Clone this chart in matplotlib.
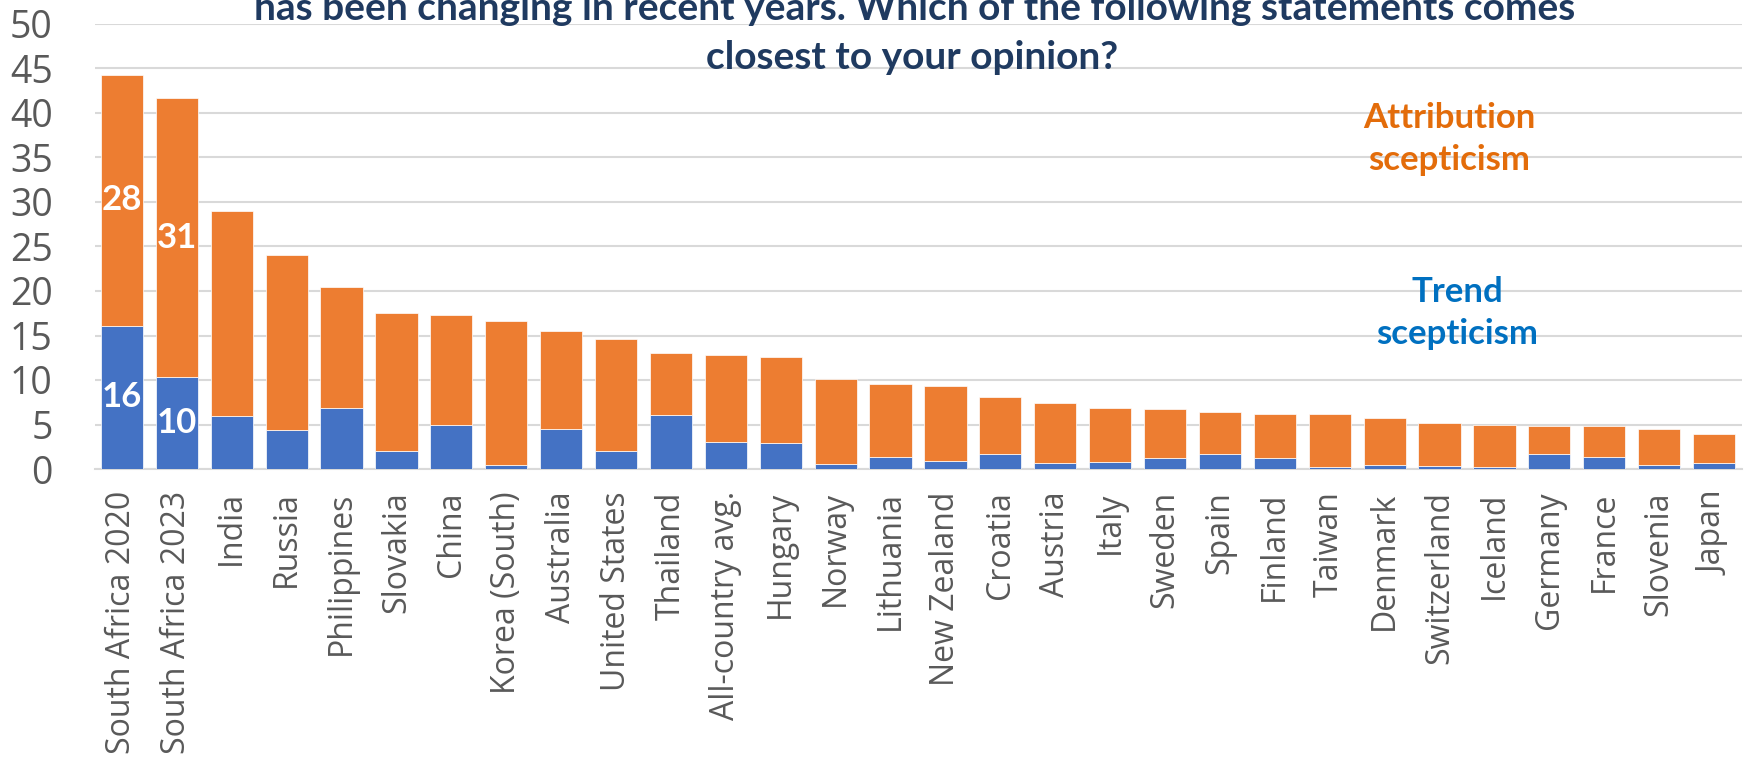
import numpy as np
import matplotlib
matplotlib.use("Agg")
import matplotlib.pyplot as plt

countries = ["South Africa 2020", "South Africa 2023", "India", "Russia", "Philippines",
             "Slovakia", "China", "Korea (South)", "Australia", "United States",
             "Thailand", "All-country avg.", "Hungary", "Norway", "Lithuania",
             "New Zealand", "Croatia", "Austria", "Italy", "Sweden", "Spain",
             "Finland", "Taiwan", "Denmark", "Switzerland", "Iceland", "Germany",
             "France", "Slovenia", "Japan"]

# trend scepticism (blue, bottom)
trend = [16.1, 10.3, 5.9, 4.4, 6.8, 2.0, 4.9, 0.5, 4.5, 2.0,
         6.1, 3.0, 2.9, 0.6, 1.3, 0.9, 1.7, 0.7, 0.8, 1.2,
         1.7, 1.2, 0.2, 0.4, 0.3, 0.2, 1.7, 1.4, 0.4, 0.7]

# attribution scepticism (orange, top)
attribution = [28.2, 31.4, 23.1, 19.6, 13.6, 15.5, 12.4, 16.1, 11.0, 12.6,
               6.9, 9.8, 9.7, 9.5, 8.2, 8.4, 6.4, 6.7, 6.1, 5.5,
               4.7, 5.0, 6.0, 5.3, 4.9, 4.8, 3.1, 3.4, 4.1, 3.2]

labelled = [0, 1]  # bars with value labels

title_1 = "has been changing in recent years. Which of the following statements comes"
title_2 = "closest to your opinion?"

BLUE = "#4472C4"
ORANGE = "#ED7D31"
GREY = "#595959"

plt.rcParams["font.family"] = ["Open Sans", "DejaVu Sans"]

fig = plt.figure(figsize=(17.46, 7.64), dpi=100)
ax = fig.add_axes([94.5 / 1746, 1 - 469 / 764, 1647 / 1746, 445 / 764])

x = np.arange(len(countries))
ax.bar(x, trend, width=0.77, color=BLUE, edgecolor="white", linewidth=0.5, zorder=3)
ax.bar(x, attribution, width=0.77, bottom=trend, color=ORANGE,
       edgecolor="white", linewidth=0.5, zorder=3)

for i in labelled:
    ax.text(x[i], trend[i] / 2, f"{trend[i]:.0f}", ha="center", va="center",
            color="white", fontsize=25, fontweight="bold", family=["Lato"], zorder=4)
    ax.text(x[i], trend[i] + attribution[i] / 2, f"{attribution[i]:.0f}",
            ha="center", va="center", color="white", fontsize=25,
            fontweight="bold", family=["Lato"], zorder=4)

ax.set_xlim(-0.5, len(countries) - 0.5)
ax.set_ylim(0, 50)
ax.set_yticks(range(0, 51, 5))
ax.yaxis.grid(True, color="#D9D9D9", linewidth=1.5, zorder=0)
ax.set_axisbelow(True)
for s in ["top", "right", "left"]:
    ax.spines[s].set_visible(False)
ax.spines["bottom"].set_color("#D9D9D9")
ax.spines["bottom"].set_linewidth(1.5)

ax.set_xticks(x)
ax.set_xticklabels(countries, rotation=90, fontsize=23, color=GREY)
ax.tick_params(axis="x", length=0, pad=16)
ax.tick_params(axis="y", length=0, pad=30, labelsize=27, labelcolor=GREY)

# series labels
ax.text(0.8224, 0.7416, "Attribution\nscepticism", transform=ax.transAxes,
        ha="center", va="center", color="#E36C0A", fontsize=25,
        fontweight="bold", family=["Lato"], linespacing=1.4)
ax.text(0.8273, 0.3506, "Trend\nscepticism", transform=ax.transAxes,
        ha="center", va="center", color="#0070C0", fontsize=25,
        fontweight="bold", family=["Lato"], linespacing=1.4)

fig.text(915 / 1746, 1 - 20 / 764, title_1, ha="center", va="baseline",
         color="#1F3A60", fontsize=28, fontweight="bold", family=["Lato"])
fig.text(912 / 1746, 1 - 69 / 764, title_2, ha="center", va="baseline",
         color="#1F3A60", fontsize=28, fontweight="bold", family=["Lato"])

fig.savefig("out.png", dpi=100)
